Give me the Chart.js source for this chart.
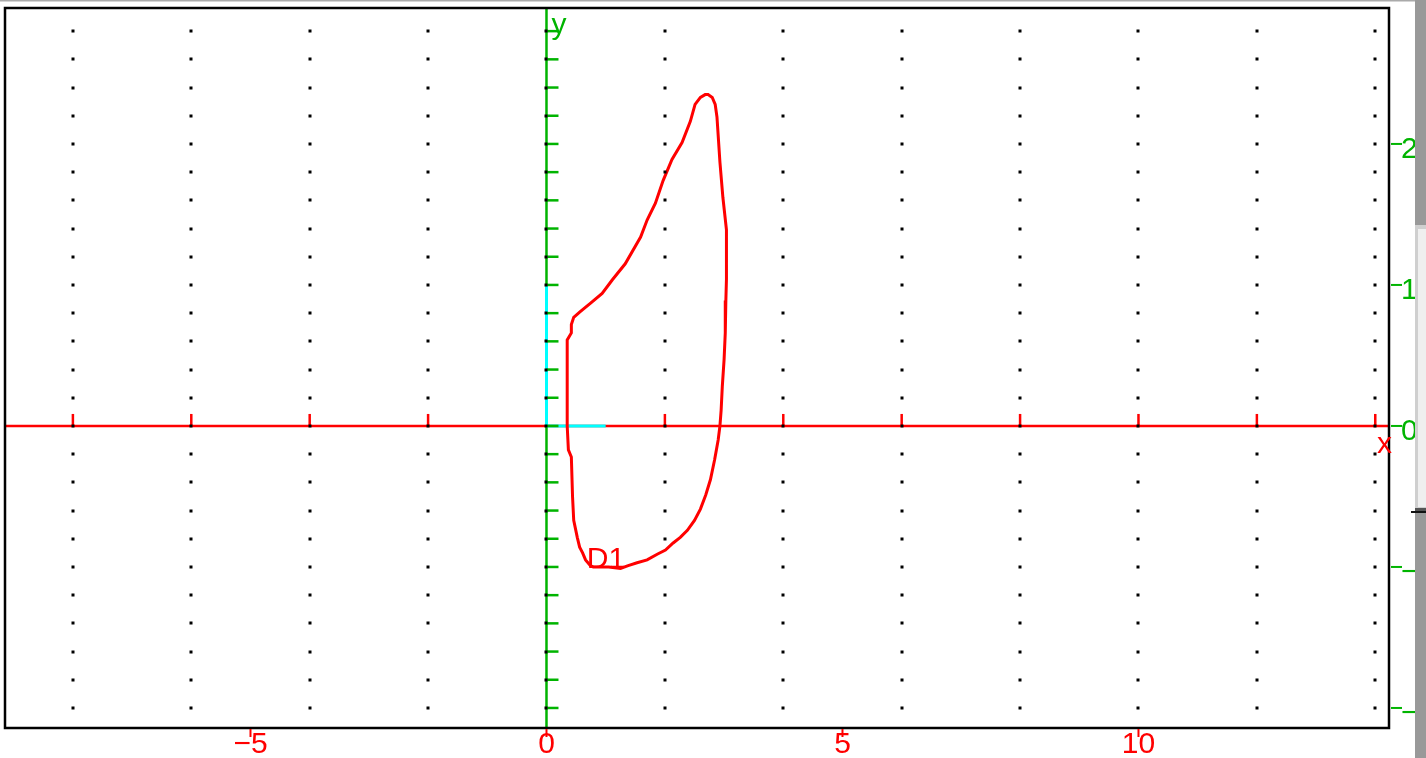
<!DOCTYPE html>
<html>
<head>
<meta charset="utf-8">
<script src="https://cdn.jsdelivr.net/npm/chart.js@4.4.1/dist/chart.umd.min.js"></script>
<style>
  html, body { margin: 0; padding: 0; background: #fff; overflow: hidden; }
  #wrap { width: 1426px; height: 758px; }
</style>
</head>
<body>
<div id="wrap"><canvas id="c" width="1426" height="758"></canvas></div>
<script>
// visible window of the graph
const xMin = -9.13, xMax = 14.215;
const yMin = -2.135, yMax = 2.957;
const xStep = 2, yStep = 0.2;

// closed curve D1
const curveX = [0.35, 0.35, 0.42, 0.42, 0.46, 0.57, 0.74, 0.94, 1.11, 1.33,
    1.59, 1.70, 1.84, 1.97, 2.12, 2.29, 2.43, 2.51, 2.60, 2.68,
    2.73, 2.80, 2.85, 2.88, 2.93, 2.98, 3.04, 3.04, 3.03, 3.02,
    3.00, 2.97, 2.95, 2.93, 2.90, 2.84, 2.77, 2.69, 2.60, 2.50,
    2.38, 2.26, 2.14, 2.01, 1.87, 1.70, 1.53, 1.38, 1.25, 1.05,
    0.79, 0.74, 0.66, 0.61, 0.56, 0.52, 0.46, 0.44, 0.42, 0.37, 0.35];
const curveY = [0, 0.61, 0.66, 0.72, 0.77, 0.81, 0.87, 0.94, 1.035, 1.15,
    1.34, 1.46, 1.58, 1.74, 1.89, 2.01, 2.16, 2.28, 2.33, 2.35,
    2.35, 2.33, 2.28, 2.19, 1.87, 1.62, 1.39, 1.04, 0.89, 0.66,
    0.47, 0.28, 0.11, 0, -0.10, -0.24, -0.38, -0.49, -0.59, -0.67,
    -0.74, -0.79, -0.83, -0.88, -0.91, -0.95, -0.97, -0.99, -1.01, -1.00,
    -1.00, -0.99, -0.95, -0.90, -0.86, -0.79, -0.67, -0.50, -0.22, -0.17, 0];

// unit vectors (cyan)
const vecIx = [0, 1], vecIy = [0, 0];
const vecJx = [0, 0], vecJy = [0, 1];

// tick labels
const xLabels = [-5, 0, 5, 10];
const yLabels = [-2, -1, 0, 1, 2];
const d1Label = { text: 'D1', x: 0.68, y: -1.0 };

const RED = '#ff0000';
const GREEN = '#00b400';
const FONT = '30px "Liberation Sans", Arial, sans-serif';

const toPoints = (xs, ys) => xs.map((v, i) => ({ x: v, y: ys[i] }));
const fmt = v => String(v).replace('-', '\u2212');
const onStep = (v, s) => Math.abs(v / s - Math.round(v / s)) < 1e-6;

const xcasPlot = {
    id: 'xcasPlot',
    beforeDraw(chart) {
        const ctx = chart.ctx;
        ctx.save();
        ctx.fillStyle = '#fff';
        ctx.fillRect(0, 0, chart.width, chart.height);
        ctx.restore();
    },
    beforeDatasetsDraw(chart) {
        const { ctx, chartArea: a, scales: { x, y } } = chart;
        const x0 = x.getPixelForValue(0), y0 = y.getPixelForValue(0);
        ctx.save();
        ctx.lineWidth = 2.5;
        ctx.strokeStyle = RED;
        ctx.beginPath(); ctx.moveTo(a.left, y0); ctx.lineTo(a.right, y0); ctx.stroke();
        ctx.strokeStyle = GREEN;
        ctx.beginPath(); ctx.moveTo(x0, a.top); ctx.lineTo(x0, a.bottom); ctx.stroke();
        ctx.restore();
    },
    afterDatasetsDraw(chart) {
        const { ctx, scales: { x, y } } = chart;
        const x0 = x.getPixelForValue(0), y0 = y.getPixelForValue(0);
        const xt = x.ticks.filter(t => onStep(t.value, xStep));
        const yt = y.ticks.filter(t => onStep(t.value, yStep));
        ctx.save();
        ctx.lineWidth = 2.5;
        // ticks on the x axis (pointing up)
        ctx.strokeStyle = RED;
        xt.forEach(t => {
            if (Math.abs(t.value) < 1e-9) return;
            const px = x.getPixelForValue(t.value);
            ctx.beginPath(); ctx.moveTo(px, y0); ctx.lineTo(px, y0 - 12); ctx.stroke();
        });
        // ticks on the y axis (pointing right)
        ctx.strokeStyle = GREEN;
        yt.forEach(t => {
            const py = y.getPixelForValue(t.value);
            ctx.beginPath(); ctx.moveTo(x0, py); ctx.lineTo(x0 + 12, py); ctx.stroke();
        });
        // dotted grid
        ctx.fillStyle = '#000';
        xt.forEach(tx => {
            const px = x.getPixelForValue(tx.value);
            yt.forEach(ty => {
                const py = y.getPixelForValue(ty.value);
                ctx.fillRect(Math.round(px) - 1.5, Math.round(py) - 1.5, 3, 3);
            });
        });
        ctx.restore();
    },
    afterDraw(chart) {
        const { ctx, chartArea: a, scales: { x, y } } = chart;
        const x0 = x.getPixelForValue(0), y0 = y.getPixelForValue(0);
        ctx.save();
        // thin grey line at the very top
        ctx.fillStyle = '#aaa';
        ctx.fillRect(0, 0, 1415, 1.5);
        // frame
        ctx.strokeStyle = '#000';
        ctx.lineWidth = 2.5;
        ctx.strokeRect(a.left - 1, a.top - 1, a.right - a.left + 2, a.bottom - a.top + 2);

        ctx.font = FONT;
        // x labels under the frame
        ctx.fillStyle = RED;
        ctx.strokeStyle = RED;
        ctx.lineWidth = 2;
        ctx.textAlign = 'center';
        ctx.textBaseline = 'alphabetic';
        xLabels.forEach(v => {
            const px = x.getPixelForValue(v);
            ctx.fillText(fmt(v), px, a.bottom + 26);
            ctx.beginPath(); ctx.moveTo(px, a.bottom + 2); ctx.lineTo(px, a.bottom + 10); ctx.stroke();
        });
        // y labels at the right of the frame
        ctx.fillStyle = GREEN;
        ctx.strokeStyle = GREEN;
        ctx.textAlign = 'left';
        yLabels.forEach(v => {
            const py = y.getPixelForValue(v);
            ctx.beginPath(); ctx.moveTo(a.right + 3, py); ctx.lineTo(a.right + 14, py); ctx.stroke();
            ctx.fillText(fmt(v), a.right + 13, py + 14);
        });
        // axis names and object name
        ctx.fillText('y', x0 + 5, a.top + 25);
        ctx.fillStyle = RED;
        ctx.fillText('x', a.right - 11, y0 + 27);
        ctx.fillText(d1Label.text, x.getPixelForValue(d1Label.x), y.getPixelForValue(d1Label.y) + 1);

        // scrollbar strip on the right edge
        ctx.fillStyle = '#999';
        ctx.fillRect(1415, 0, 11, 758);
        ctx.fillStyle = '#cfcfcf';
        ctx.fillRect(1415, 225, 11, 284);
        ctx.fillStyle = '#efefef';
        ctx.fillRect(1418, 229, 8, 278);
        ctx.fillStyle = '#555';
        ctx.fillRect(1415, 508, 11, 3);
        ctx.fillStyle = '#111';
        ctx.fillRect(1411, 511, 15, 2);
        ctx.restore();
    }
};

new Chart(document.getElementById('c'), {
    type: 'scatter',
    data: {
        datasets: [
            {
                label: 'D1',
                data: toPoints(curveX, curveY),
                showLine: true,
                borderColor: RED,
                borderWidth: 3,
                pointRadius: 0,
                fill: false,
                tension: 0
            },
            {
                label: 'i',
                data: toPoints(vecIx, vecIy),
                showLine: true,
                borderColor: '#00ffff',
                borderWidth: 3,
                pointRadius: 0
            },
            {
                label: 'j',
                data: toPoints(vecJx, vecJy),
                showLine: true,
                borderColor: '#00ffff',
                borderWidth: 3,
                pointRadius: 0
            }
        ]
    },
    options: {
        responsive: false,
        animation: false,
        devicePixelRatio: 1,
        layout: { padding: { left: 6, top: 9, right: 38, bottom: 31 } },
        plugins: { legend: { display: false }, tooltip: { enabled: false } },
        scales: {
            x: {
                type: 'linear', min: xMin, max: xMax, display: false,
                ticks: { stepSize: xStep, includeBounds: false }
            },
            y: {
                type: 'linear', min: yMin, max: yMax, display: false,
                ticks: { stepSize: yStep, includeBounds: false }
            }
        }
    },
    plugins: [xcasPlot]
});
</script>
</body>
</html>
